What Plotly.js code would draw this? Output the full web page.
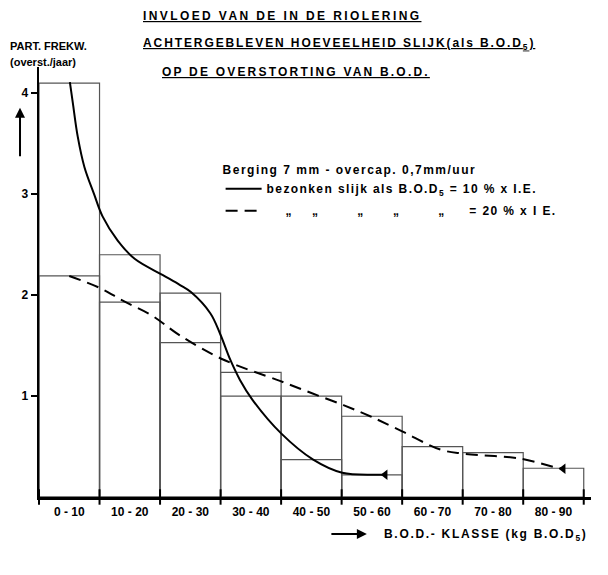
<!DOCTYPE html>
<html>
<head>
<meta charset="utf-8">
<script src="https://cdn.plot.ly/plotly-3.0.1.min.js"></script>
<style>
  html, body { margin: 0; padding: 0; background: #fff; }
  #chart { width: 608px; height: 575px; }
</style>
</head>
<body>
<div id="chart"></div>
<script>
// ---- data ----
const classStart = [0, 10, 20, 30, 40, 50, 60, 70, 80];
const classLabels = ['0 - 10', '10 - 20', '20 - 30', '30 - 40', '40 - 50', '50 - 60', '60 - 70', '70 - 80', '80 - 90'];
const classBounds = [0, 10, 20, 30, 40, 50, 60, 70, 80, 90];

// partial frequency (overst./jaar) per class
const freq10 = [4.10, 2.40, 2.02, 1.00, 0.37, 0.22];              // slijk = 10 % x I.E.
const freq20 = [2.19, 1.93, 1.53, 1.235, 1.00, 0.80, 0.50, 0.44, 0.285]; // slijk = 20 % x I.E.

// smoothed curves drawn through the histograms
const curve10X = [5.1, 5.6, 6.4, 7.5, 9.1, 10.5, 13.0, 15.8, 20.4, 23.3, 25.1, 28.3, 29.9, 31.6, 33.2, 35.3, 40.0, 45.3, 50.1, 55.3, 57.2];
const curve10Y = [4.11, 3.90, 3.57, 3.27, 3.00, 2.78, 2.54, 2.36, 2.20, 2.10, 2.03, 1.82, 1.62, 1.36, 1.16, 0.96, 0.63, 0.37, 0.24, 0.22, 0.22];
const curve20X = [5.0, 10.1, 14.0, 18.6, 23.3, 30.5, 39.8, 45.0, 50.3, 54.7, 60.0, 66.3, 70.1, 79.5, 85.6, 86.6];
const curve20Y = [2.19, 2.07, 1.94, 1.80, 1.60, 1.36, 1.15, 1.03, 0.91, 0.80, 0.65, 0.47, 0.43, 0.38, 0.29, 0.28];

// arrow heads at the curve ends
const endX = [57.2, 86.6];
const endY = [0.22, 0.28];

const yTicks = [1, 2, 3, 4];

// ---- build ----
const centers = classStart.map(s => s + 5);
const ls = (t, sp) => '<span style="letter-spacing:' + sp + 'px">' + t + '</span>';
const nb = n => '\u00a0'.repeat(n);

const traces = [
  {
    type: 'bar', x: centers.slice(0, freq20.length), y: freq20, width: 10,
    marker: { color: 'rgba(0,0,0,0)', line: { color: '#555', width: 1.2 } },
    showlegend: false, hoverinfo: 'skip'
  },
  {
    type: 'bar', x: centers.slice(0, freq10.length), y: freq10, width: 10,
    marker: { color: 'rgba(0,0,0,0)', line: { color: '#555', width: 1.2 } },
    showlegend: false, hoverinfo: 'skip'
  },
  {
    type: 'scatter', mode: 'lines', x: curve10X, y: curve10Y, legendgroup: 'a',
    line: { color: '#000', width: 2, shape: 'spline', smoothing: 1 },
    name: ls('bezonken slijk als B.O.D<sub>5</sub> = 10 % x I.E.', 1.4)
  },
  {
    type: 'scatter', mode: 'lines', x: curve20X, y: curve20Y, legendgroup: 'b',
    line: { color: '#000', width: 2, shape: 'spline', smoothing: 1, dash: '12px,7px' },
    name: ls(nb(4) + '„' + nb(4) + '„' + nb(8) + '„' + nb(6) + '„' + nb(8) + '„' + nb(5) + '= 20 % x I E.', 1.4)
  },
  {
    type: 'scatter', mode: 'markers', x: endX, y: endY,
    marker: { symbol: 'triangle-left', size: 9, color: '#000' },
    showlegend: false, hoverinfo: 'skip'
  },
  {
    // class-boundary tick marks crossing the x axis
    type: 'scatter', mode: 'markers', x: classBounds, y: classBounds.map(() => 0),
    marker: { symbol: 'line-ns', size: 11, color: '#000', line: { color: '#000', width: 2 } },
    cliponaxis: false, showlegend: false, hoverinfo: 'skip'
  }
];

const F = 'Liberation Sans, Arial, sans-serif';
const layout = {
  width: 608, height: 575,
  margin: { l: 39, r: 17, t: 67, b: 78 },
  paper_bgcolor: '#fff', plot_bgcolor: '#fff',
  barmode: 'overlay',
  font: { family: F, size: 12, color: '#000', weight: 'bold' },
  xaxis: {
    range: [0, 91.2],
    tickmode: 'array', tickvals: centers, ticktext: classLabels,
    ticks: 'outside', ticklen: 2, tickcolor: 'rgba(0,0,0,0)',
    tickfont: { family: F, size: 12, color: '#000', weight: 'bold' },
    showgrid: false, zeroline: false,
    showline: true, linecolor: '#000', linewidth: 2.5
  },
  yaxis: {
    range: [0, 4.26],
    tickmode: 'array', tickvals: yTicks, ticktext: yTicks.map(String),
    ticks: 'outside', ticklen: 6, tickwidth: 2, tickcolor: '#000',
    tickfont: { family: F, size: 12, color: '#000', weight: 'bold' },
    showgrid: false, zeroline: false,
    showline: true, linecolor: '#000', linewidth: 2.5
  },
  showlegend: true,
  legend: {
    x: 0.329, xanchor: 'left', y: 0.787, yanchor: 'top',
    bgcolor: 'rgba(0,0,0,0)', borderwidth: 0,
    itemwidth: 36, tracegroupgap: 3,
    font: { family: F, size: 12, color: '#000', weight: 'bold' },
    title: { text: ls('Berging 7 mm - overcap. 0,7mm/uur', 1.5), font: { family: F, size: 12, color: '#000', weight: 'bold' } }
  },
  annotations: [
    { xref: 'paper', yref: 'paper', x: 0.185, y: 1.119, xanchor: 'left', yanchor: 'middle', showarrow: false,
      text: '<u>' + ls('INVLOED VAN DE IN DE RIOLERING', 2.4) + '</u>', font: { family: F, size: 12, weight: 'bold' } },
    { xref: 'paper', yref: 'paper', x: 0.185, y: 1.053, xanchor: 'left', yanchor: 'middle', showarrow: false,
      text: '<u>' + ls('ACHTERGEBLEVEN HOEVEELHEID SLIJK(als B.O.D<sub>5</sub>)', 1.9) + '</u>', font: { family: F, size: 12, weight: 'bold' } },
    { xref: 'paper', yref: 'paper', x: 0.219, y: 0.988, xanchor: 'left', yanchor: 'middle', showarrow: false,
      text: '<u>' + ls('OP DE OVERSTORTING VAN B.O.D.', 2.2) + '</u>', font: { family: F, size: 12, weight: 'bold' } },
    { xref: 'paper', yref: 'paper', x: -0.056, y: 1.049, xanchor: 'left', yanchor: 'middle', showarrow: false,
      text: 'PART. FREKW.', font: { family: F, size: 11, weight: 'bold' } },
    { xref: 'paper', yref: 'paper', x: -0.056, y: 1.012, xanchor: 'left', yanchor: 'middle', showarrow: false,
      text: '(overst./jaar)', font: { family: F, size: 11, weight: 'bold' } },
    { xref: 'paper', yref: 'paper', x: -0.0344, y: 0.905, ax: 0, ay: 50, text: '',
      showarrow: true, arrowhead: 2, arrowsize: 1, arrowwidth: 2, arrowcolor: '#000' },
    { xref: 'paper', yref: 'paper', x: 0.594, y: -0.086, ax: -37, ay: 0, text: '',
      showarrow: true, arrowhead: 2, arrowsize: 1, arrowwidth: 2, arrowcolor: '#000' },
    { xref: 'paper', yref: 'paper', x: 0.621, y: -0.088, xanchor: 'left', yanchor: 'middle', showarrow: false,
      text: ls('B.O.D.- KLASSE (kg B.O.D<sub>5</sub>)', 1.7), font: { family: F, size: 12, weight: 'bold' } }
  ]
};

Plotly.newPlot('chart', traces, layout, { staticPlot: true, displayModeBar: false });
</script>
</body>
</html>
